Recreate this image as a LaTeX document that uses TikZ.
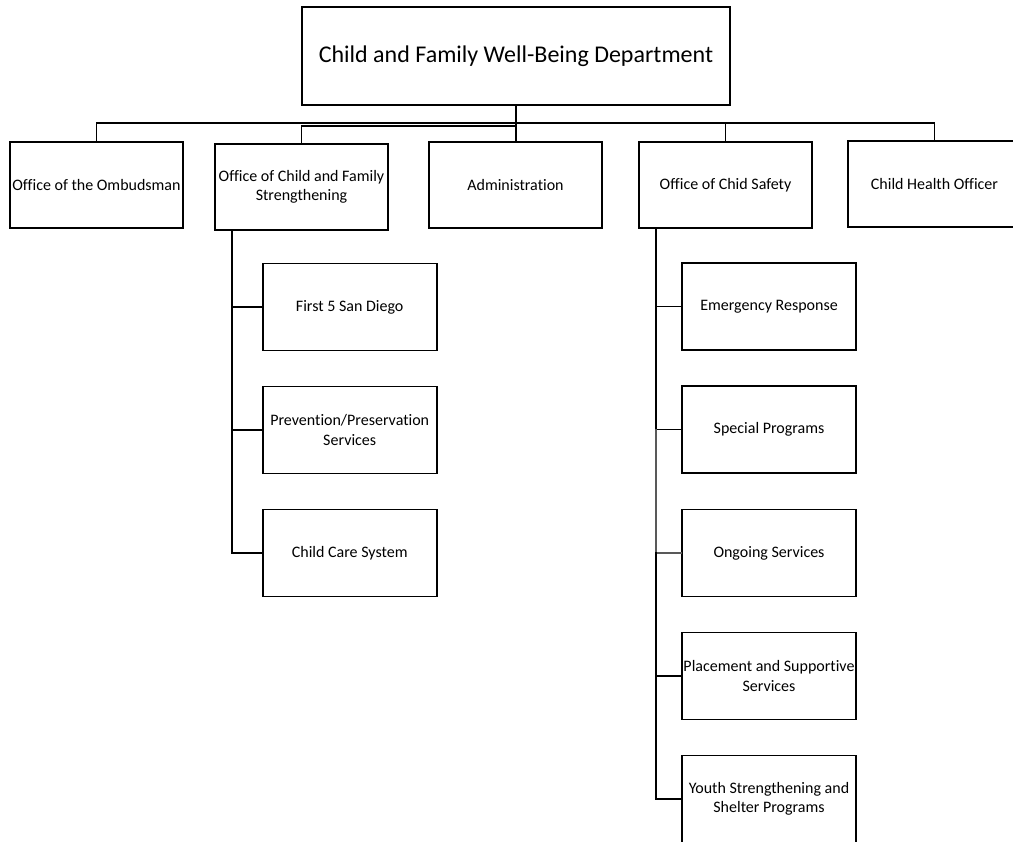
\documentclass[tikz,border=0pt]{standalone}
\usepackage{fontspec}
\setmainfont[Ligatures=NoCommon]{Carlito}
\begin{document}
\begin{tikzpicture}[x=1pt,y=-1pt,
  box/.style={draw, line width=1.8pt, minimum width=173pt, minimum height=86pt, inner sep=0pt, align=center, font=\fontsize{16}{19.5}\selectfont},
  subbox/.style={box, minimum width=174pt, minimum height=87pt},
  conn/.style={draw, line width=1.8pt, line cap=rect},
  connGrey/.style={conn, draw=black!65}]
\useasboundingbox (0,0) rectangle (1013,842);
% top
\node[draw, line width=1.8pt, minimum width=428pt, minimum height=98pt, inner sep=0pt, font=\fontsize{24}{29}\selectfont] (top) at (516,56) {Child and Family Well-Being Department};
% level 1
\node[box] (omb) at (96.5,185) {Office of the Ombudsman};
\node[box] (ocfs) at (301.5,187) {Office of Child and Family\\Strengthening};
\node[box] (adm) at (515.5,185) {Administration};
\node[box] (ocs) at (725.5,185) {Office of Chid Safety};
\node[box] (cho) at (934.5,184) {Child Health Officer};
% left column
\node[subbox] (f5) at (349.7,307) {First 5 San Diego};
\node[subbox] (pp) at (349.7,430) {Prevention/Preservation\\Services};
\node[subbox] (ccs) at (349.7,553) {Child Care System};
% right column
\node[subbox] (er) at (769,306.5) {Emergency Response};
\node[subbox] (sp) at (769,429.5) {Special Programs};
\node[subbox] (og) at (769,553) {Ongoing Services};
\node[subbox] (pl) at (769,676) {Placement and Supportive\\Services};
\node[subbox] (ys) at (769,799) {Youth Strengthening and\\Shelter Programs};
% bus coordinates
\coordinate (bus) at (0,123);
\coordinate (bus2) at (0,126);
\coordinate (lv) at (232,0);
\coordinate (rv) at (656,0);
% level 1 connectors
\draw[conn] (top.south) -- (top.south |- bus) -| (omb.north);
\draw[conn] (top.south) -- (top.south |- bus2) -| (ocfs.north);
\draw[conn] (top.south) -- (top.south |- adm.north);
\draw[conn] (top.south) -- (top.south |- bus) -| (ocs.north);
\draw[conn] (top.south) -- (top.south |- bus) -| (cho.north);
% left column connectors
\draw[conn] (lv |- ocfs.south) |- (f5.west);
\draw[conn] (lv |- ocfs.south) |- (pp.west);
\draw[conn] (lv |- ocfs.south) |- (ccs.west);
% right column connectors
\draw[conn] (rv |- ocs.south) |- (er.west);
\draw[conn] (rv |- ocs.south) |- (sp.west);
\draw[connGrey] (rv |- sp.west) |- (og.west);
\draw[conn] (rv |- og.west) |- (pl.west);
\draw[conn] (rv |- og.west) |- (ys.west);
\end{tikzpicture}
\end{document}
